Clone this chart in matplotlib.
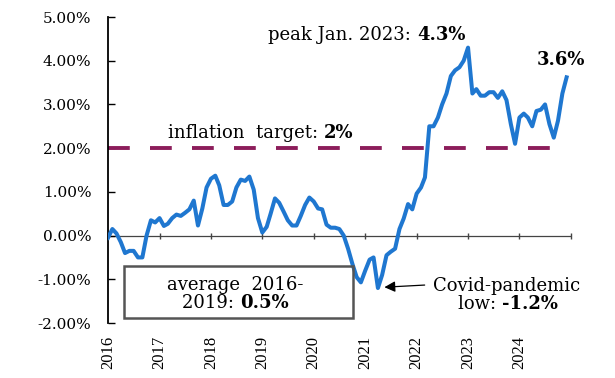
import numpy as np
import pandas as pd
import matplotlib
matplotlib.use("Agg")
import matplotlib.pyplot as plt
from matplotlib.patches import Rectangle

plt.rcParams["font.family"] = ["DejaVu Serif"]

# monthly inflation rate, Jan 2016 - Dec 2024 (%)
inflation = [
    -0.05, 0.15, 0.05, -0.15, -0.4, -0.35, -0.35, -0.5, -0.5, 0.0, 0.35, 0.3,   # 2016
    0.4, 0.22, 0.27, 0.4, 0.48, 0.45, 0.52, 0.6, 0.8, 0.23, 0.62, 1.1,          # 2017
    1.3, 1.37, 1.15, 0.7, 0.7, 0.78, 1.1, 1.28, 1.25, 1.35, 1.05, 0.4,          # 2018
    0.07, 0.2, 0.5, 0.85, 0.75, 0.55, 0.35, 0.23, 0.23, 0.45, 0.7, 0.87,        # 2019
    0.78, 0.62, 0.6, 0.25, 0.18, 0.18, 0.15, 0.0, -0.3, -0.64, -0.95, -1.07,    # 2020
    -0.8, -0.55, -0.5, -1.2, -0.9, -0.45, -0.37, -0.3, 0.15, 0.39, 0.72, 0.6,   # 2021
    0.96, 1.1, 1.33, 2.5, 2.5, 2.7, 3.0, 3.25, 3.65, 3.78, 3.85, 4.0,           # 2022
    4.3, 3.25, 3.35, 3.2, 3.2, 3.28, 3.28, 3.15, 3.3, 3.1, 2.55, 2.1,           # 2023
    2.7, 2.79, 2.7, 2.5, 2.85, 2.88, 3.0, 2.55, 2.24, 2.63, 3.25, 3.62,         # 2024
]
dates = pd.date_range("2016-01-01", periods=len(inflation), freq="MS")
target = 2.0
target_end = pd.Timestamp("2024-08-15")
years = [str(y) for y in range(2016, 2025)]
year_ticks = pd.to_datetime([f"{y}-01-01" for y in range(2016, 2025)])
axis_ticks = pd.to_datetime([f"{y}-01-01" for y in range(2016, 2026)])
yticks = [-2, -1, 0, 1, 2, 3, 4, 5]

blue = "#1f77d0"
purple = "#8c1d5b"
fs = 13

fig = plt.figure(figsize=(6.15, 3.78), dpi=100)
ax = fig.add_axes([0.1756, 0.1455, 0.7528, 0.8095])

ax.plot(dates, inflation, color=blue, lw=2.9, solid_joinstyle="round", zorder=3)
ax.plot([dates[0], target_end], [target, target], color=purple, lw=2.8,
        linestyle=(0, (5.6, 5.2)), zorder=2)
ax.axhline(0, color="#444444", lw=0.9, zorder=1)

ax.set_xlim(pd.Timestamp("2016-01-01"), pd.Timestamp("2025-01-01"))
ax.set_ylim(-2, 5)
ax.set_yticks(yticks)
ax.set_yticklabels([f"{v:.2f}%" for v in yticks], fontsize=11)
ax.tick_params(axis="y", direction="in", length=5, width=1, pad=12)

ax.set_xticks(year_ticks)
ax.set_xticklabels(years, rotation=90, fontsize=12,
                   family="Liberation Serif")
ax.tick_params(axis="x", length=0, pad=9)

for s in ["top", "right", "bottom"]:
    ax.spines[s].set_visible(False)
ax.spines["left"].set_linewidth(1.3)

# small year ticks on the zero line
sec = ax.secondary_xaxis(2 / 7)
sec.set_xticks(axis_ticks)
sec.set_xticklabels([])
sec.tick_params(direction="inout", length=4, width=1, color="#444444")
sec.spines["bottom"].set_visible(False)


def two_part(x, y, normal, bold):
    t1 = ax.text(x, y, normal, fontsize=fs, ha="left", va="baseline",
                 transform=ax.transAxes, clip_on=False)
    ax.annotate(bold, xy=(1, 0), xycoords=t1, ha="left", va="bottom",
                fontsize=fs, fontweight="bold", annotation_clip=False)


two_part(0.346, 0.925, "peak Jan. 2023: ", "4.3%")
two_part(0.130, 0.605, "inflation  target: ", "2%")
ax.text(0.927, 0.843, "3.6%", transform=ax.transAxes, fontsize=fs,
        fontweight="bold", ha="left", va="baseline", clip_on=False)

# average box
ax.add_patch(Rectangle((0.035, 0.016), 0.494, 0.170, transform=ax.transAxes,
                       fill=False, edgecolor="#555555", lw=1.8, zorder=4))
ax.text(0.127, 0.108, "average  2016-", transform=ax.transAxes, fontsize=fs,
        ha="left", va="baseline")
two_part(0.160, 0.049, "2019: ", "0.5%")

# covid low
ax.annotate("", xy=(0.597, 0.117), xycoords="axes fraction",
            xytext=(0.684, 0.124), textcoords="axes fraction",
            arrowprops=dict(arrowstyle="-|>", color="black", lw=0.9,
                            mutation_scale=16, shrinkA=0, shrinkB=0))
ax.text(0.702, 0.105, "Covid-pandemic", transform=ax.transAxes, fontsize=fs,
        ha="left", va="baseline", clip_on=False)
two_part(0.756, 0.046, "low: ", "-1.2%")

fig.savefig("out.png", dpi=100)
